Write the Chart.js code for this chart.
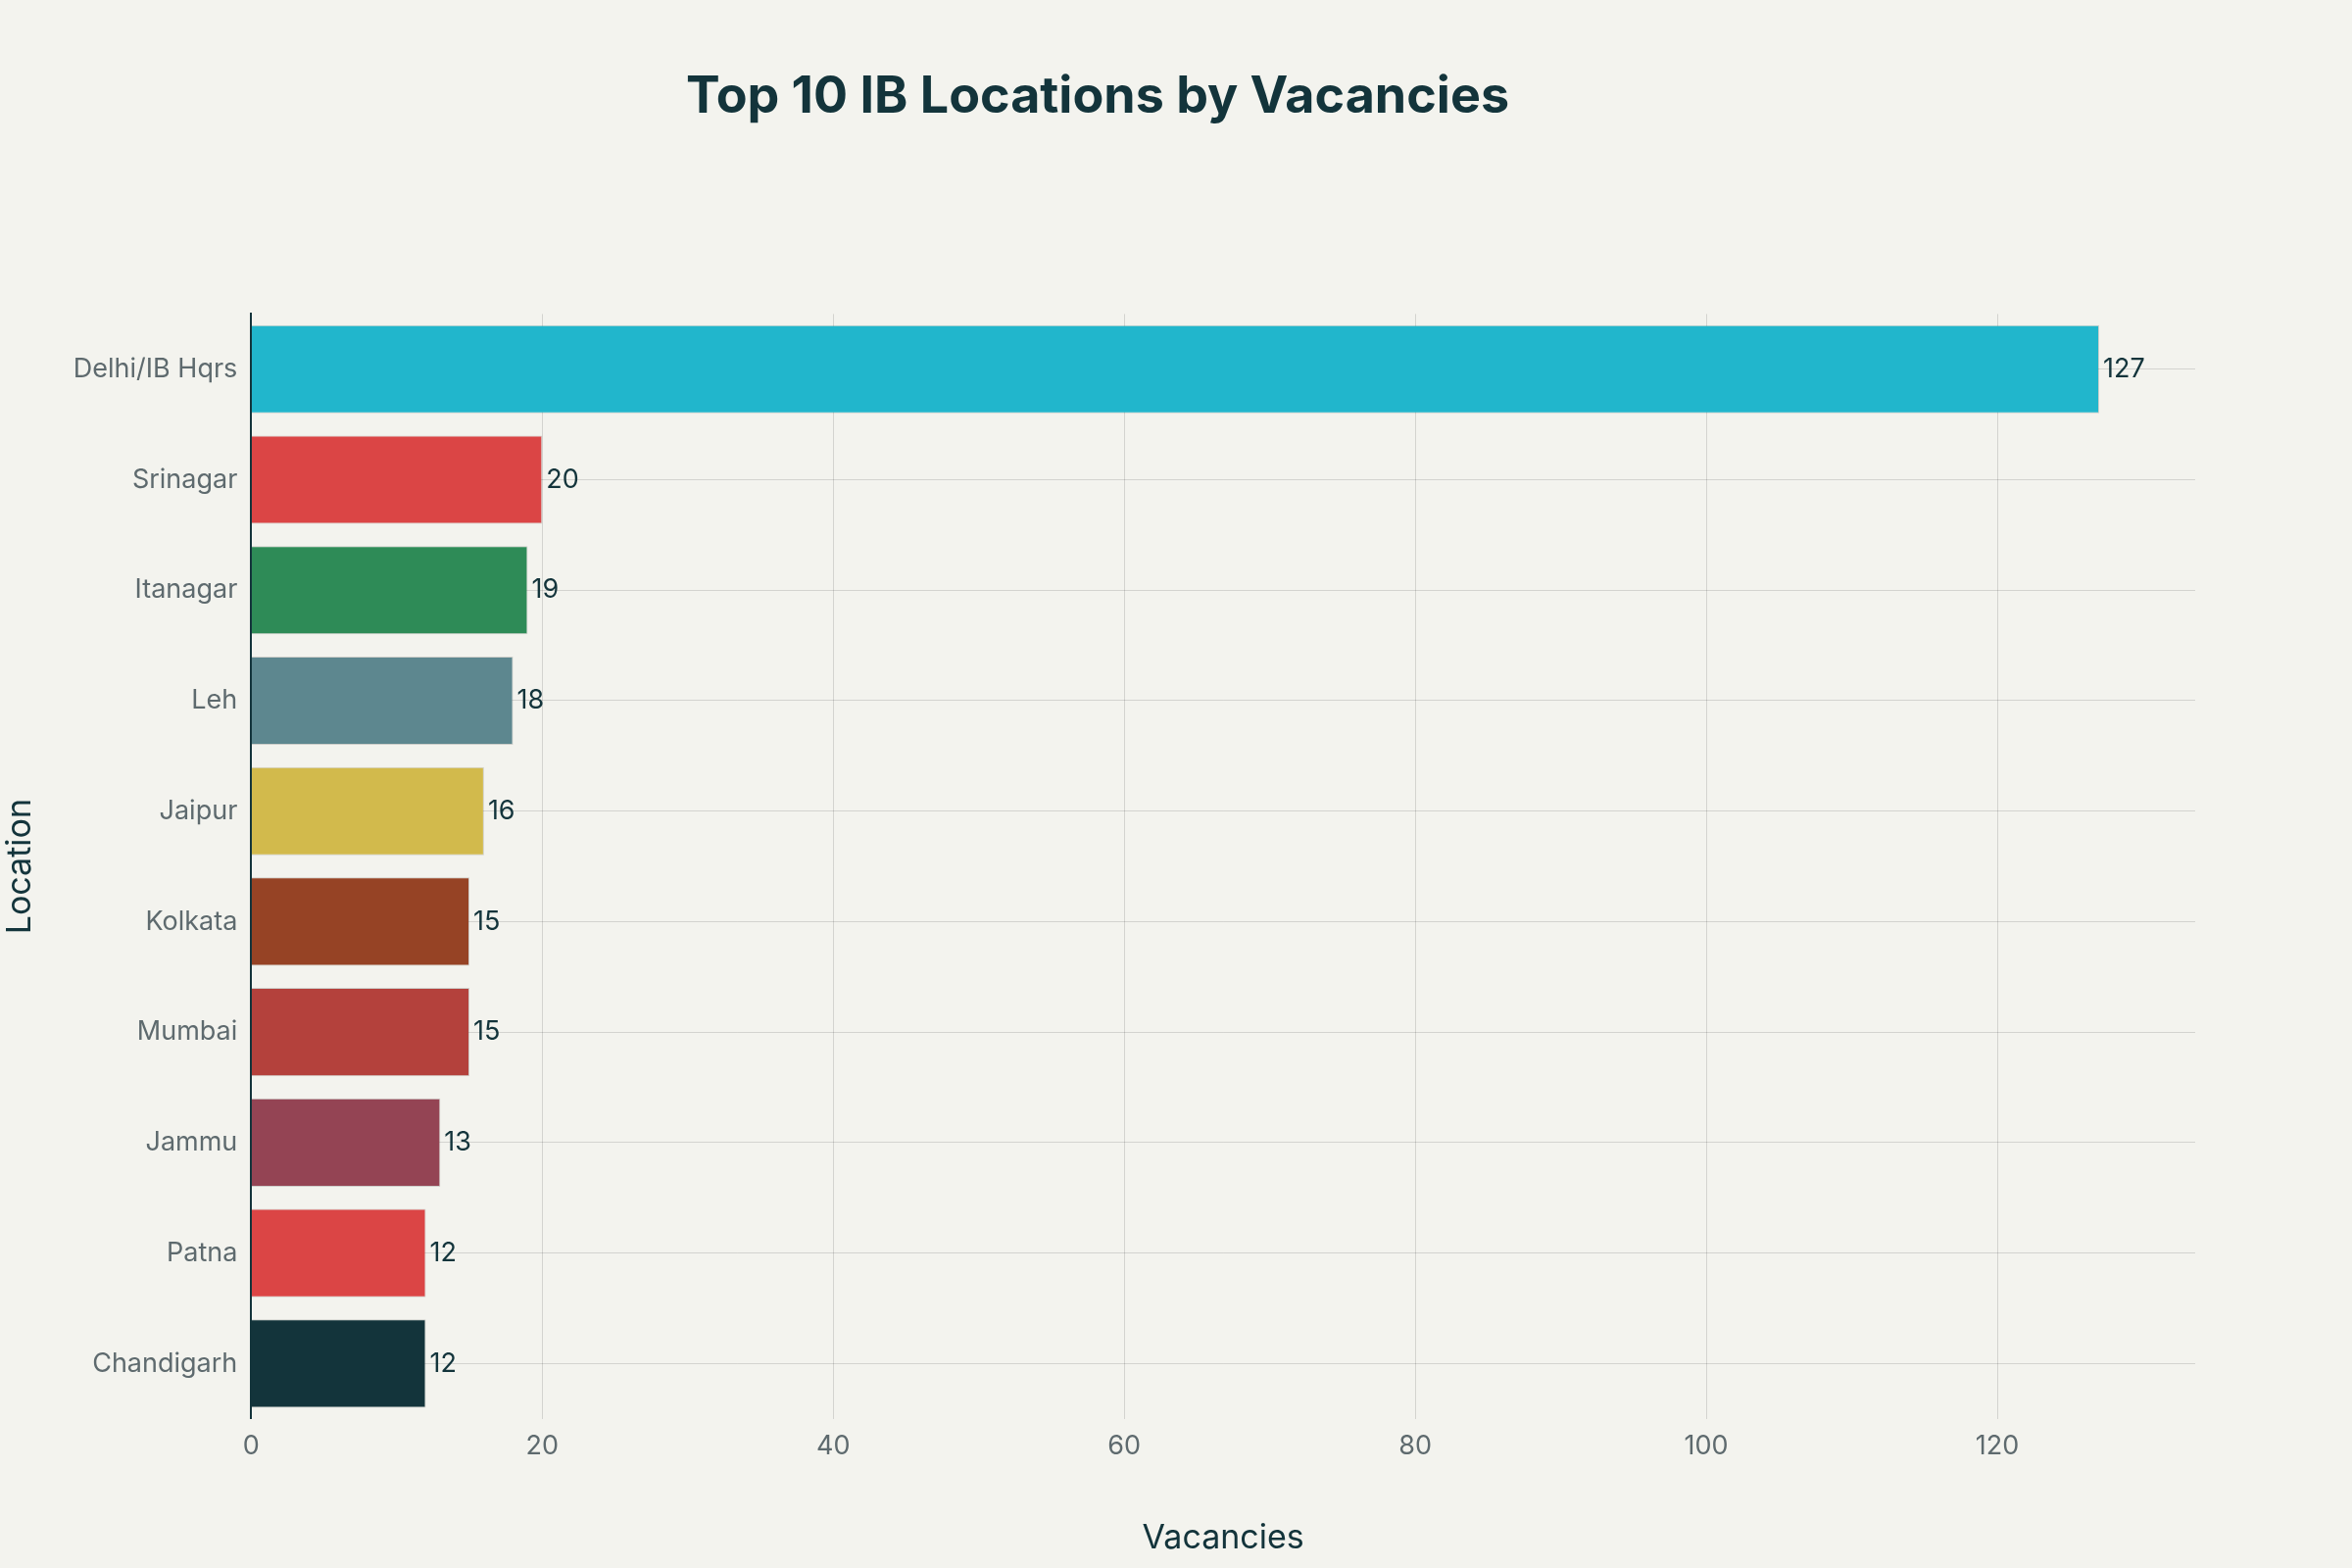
<!DOCTYPE html>
<html>
<head>
<meta charset="utf-8">
<script src="https://cdn.jsdelivr.net/npm/chart.js@4"></script>
<style>
  html, body { margin: 0; padding: 0; background: #F3F3EE; }
  #wrap { width: 2400px; height: 1600px; position: relative; }
</style>
</head>
<body>
<div id="wrap"><canvas id="chart" width="2400" height="1600"></canvas></div>
<script>
var locations = ["Delhi/IB Hqrs", "Srinagar", "Itanagar", "Leh", "Jaipur", "Kolkata", "Mumbai", "Jammu", "Patna", "Chandigarh"];
var vacancies = [127, 20, 19, 18, 16, 15, 15, 13, 12, 12];
var barColors = ["#21B6CC", "#DB4545", "#2E8B57", "#5D878F", "#D2BA4C", "#964325", "#B4413C", "#944454", "#DB4545", "#13343B"];
var xTicks = [0, 20, 40, 60, 80, 100, 120];

var fontFamily = "Inter, 'Liberation Sans', sans-serif";

var valueLabels = {
    id: "valueLabels",
    afterDatasetsDraw: function (chart) {
        var ctx = chart.ctx;
        var meta = chart.getDatasetMeta(0);
        ctx.save();
        ctx.font = "27px " + fontFamily;
        ctx.fillStyle = "#13343B";
        ctx.textAlign = "left";
        ctx.textBaseline = "middle";
        meta.data.forEach(function (bar, i) {
            ctx.fillText(vacancies[i], bar.x + 4, bar.y);
        });
        ctx.restore();
    }
};

var bg = {
    id: "bg",
    beforeDraw: function (chart) {
        var ctx = chart.ctx;
        ctx.save();
        ctx.fillStyle = "#F3F3EE";
        ctx.fillRect(0, 0, chart.width, chart.height);
        ctx.restore();
    }
};

new Chart(document.getElementById("chart"), {
    type: "bar",
    data: {
        labels: locations,
        datasets: [{
            data: vacancies,
            backgroundColor: barColors,
            borderColor: "rgba(0,0,0,0.15)",
            borderWidth: 1,
            categoryPercentage: 0.8,
            barPercentage: 1.0
        }]
    },
    options: {
        indexAxis: "y",
        responsive: false,
        animation: false,
        devicePixelRatio: 1,
        layout: { padding: { left: 0, right: 160, top: 0, bottom: 10 } },
        plugins: {
            legend: { display: false },
            tooltip: { enabled: false },
            title: {
                display: true,
                text: "Top 10 IB Locations by Vacancies",
                color: "#13343B",
                font: { family: fontFamily, size: 52, weight: "bold" },
                padding: { top: 68, bottom: 190 }
            }
        },
        scales: {
            x: {
                min: 0,
                max: 133.6,
                afterBuildTicks: function (axis) {
                    axis.ticks = xTicks.map(function (v) { return { value: v }; });
                },
                grid: { color: "rgba(0,0,0,0.13)", drawTicks: false },
                border: { display: false },
                ticks: { color: "#5E6A6E", font: { family: fontFamily, size: 27 }, padding: 12 },
                title: {
                    display: true,
                    text: "Vacancies",
                    color: "#13343B",
                    font: { family: fontFamily, size: 34 },
                    padding: { top: 45, bottom: 0 }
                }
            },
            y: {
                grid: { color: "rgba(0,0,0,0.13)", drawTicks: false, offset: false },
                border: { display: true, color: "#13343B", width: 2 },
                ticks: { color: "#5E6A6E", font: { family: fontFamily, size: 27 }, padding: 14 },
                title: {
                    display: true,
                    text: "Location",
                    color: "#13343B",
                    font: { family: fontFamily, size: 34 },
                    padding: { top: 0, bottom: 20 }
                }
            }
        }
    },
    plugins: [bg, valueLabels]
});
</script>
</body>
</html>
